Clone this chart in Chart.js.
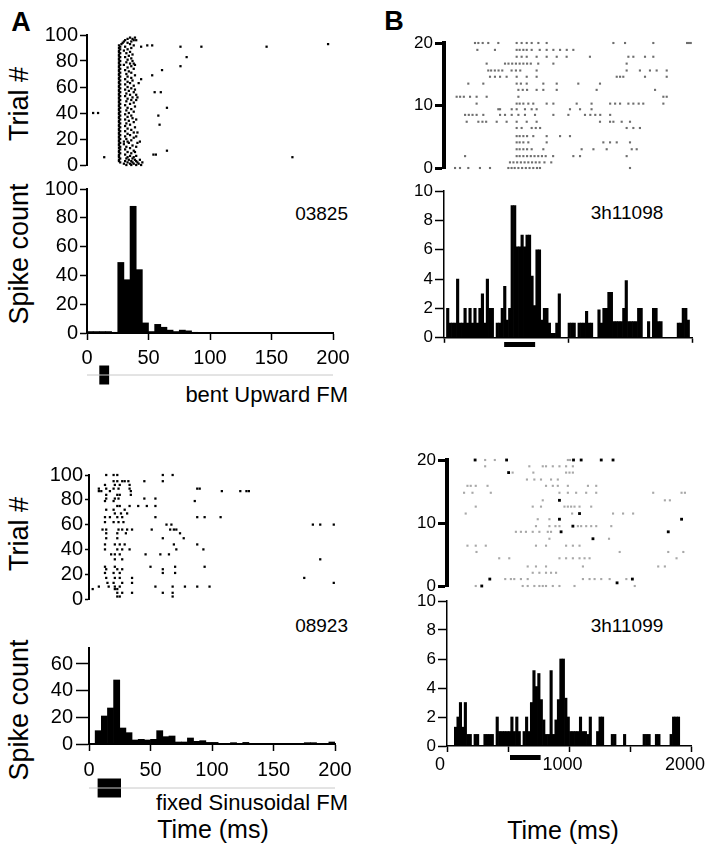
<!DOCTYPE html>
<html>
<head>
<meta charset="utf-8">
<script src="https://cdn.jsdelivr.net/npm/chart.js@4.4.1/dist/chart.umd.min.js"></script>
<style>
  body { margin: 0; background: #fff; }
  #fig { position: relative; width: 714px; height: 850px; overflow: hidden;
         font-family: 'Liberation Sans', Arial, Helvetica, sans-serif; color: #000; }
  .box { position: absolute; }
  .box canvas { display: block; }
  .t { position: absolute; white-space: nowrap; line-height: 1; }
  .c { transform: translate(-50%, -50%); }
  .r { transform: translateY(-50%); }
  .rot { transform: translate(-50%, -50%) rotate(-90deg); }
  .b { font-weight: bold; }
</style>
</head>
<body>
<div id="fig">
  <div class="t c b" style="left:21px;top:22px;font-size:27px">A</div>
  <div class="t c b" style="left:394px;top:21px;font-size:27px">B</div>
  <div class="t rot" style="left:19px;top:104px;font-size:27px">Trial #</div>
  <div class="t rot" style="left:19px;top:254px;font-size:27px">Spike count</div>
  <div class="t rot" style="left:19px;top:534px;font-size:27px">Trial #</div>
  <div class="t rot" style="left:19px;top:710px;font-size:27px">Spike count</div>
  <div class="t r" style="right:366px;top:213px;font-size:19px">03825</div>
  <div class="t r" style="right:366px;top:395px;font-size:22px">bent Upward FM</div>
  <div class="t r" style="right:366px;top:625px;font-size:19px">08923</div>
  <div class="t r" style="right:366px;top:803px;font-size:22px">fixed Sinusoidal FM</div>
  <div class="t c" style="left:627px;top:212px;font-size:19px">3h11098</div>
  <div class="t c" style="left:627px;top:625px;font-size:19px">3h11099</div>
  <div class="t c" style="left:213px;top:829px;font-size:25px">Time (ms)</div>
  <div class="t c" style="left:563px;top:830px;font-size:25px">Time (ms)</div>
</div>
<script>
// --- Raster A (top), spike times in ms, index = trial number ---
const rasterA1 = [
  [32, 36, 40, 44], [30, 35, 38, 42], [27, 33, 37, 41, 45], [26, 31, 36, 40], [26, 34, 39, 43],
  [27, 32, 37], [14, 26, 33, 38, 167], [26, 35, 40], [26, 31, 54, 56], [27, 36],
  [26, 33, 39], [26, 38, 65], [27, 31], [26, 35], [27, 32, 40],
  [26, 37], [26, 30], [27, 34, 41], [26, 30, 33, 43], [26, 36],
  [27, 32], [26, 38], [26, 31, 40], [27, 35], [26, 33],
  [26, 38, 41], [27, 31], [26, 36], [26, 33], [27, 39],
  [26, 31], [26, 35, 59], [27, 32], [26, 38], [26, 34],
  [27, 31, 40], [26, 37], [26, 33], [27, 36, 58], [26, 31],
  [5, 9, 26, 34], [27, 38], [26, 32], [26, 36], [27, 33, 65],
  [26, 39], [26, 31], [27, 35], [26, 38], [26, 32],
  [27, 36, 40], [26, 33], [26, 37, 41], [27, 31], [26, 35, 40],
  [26, 32], [27, 38, 55, 60], [26, 34], [26, 31, 39], [27, 36],
  [26, 33], [26, 38], [27, 31], [26, 35, 42], [26, 33],
  [27, 37], [26, 31, 44], [26, 36], [27, 33], [26, 39, 53],
  [26, 32], [27, 36], [26, 34], [26, 31, 61], [27, 38],
  [26, 33], [26, 36, 76], [27, 30, 39], [26, 35, 38], [26, 32],
  [27, 37], [26, 33], [26, 36], [27, 31, 81], [26, 34],
  [26, 37], [27, 32], [26, 35], [26, 30], [27, 33],
  [26, 36], [27, 31, 44, 76, 93, 146], [26, 38, 49, 53], [28, 35, 196], [29, 33],
  [30, 36], [31, 38, 40], [33, 37], [35, 39]
];

// --- PSTH A (top): 5 ms bins, 0-200 ms ---
const binA = 5;
const histA1 = [1, 1, 1, 1, 0.5, 49, 37, 88, 44, 7, 1, 6, 4, 2, 1, 2, 1.5, 0.5, 0, 0,
                0, 0, 0, 0, 0, 0, 0, 0, 0, 0, 0, 0, 0, 0, 0, 0, 0, 0, 0, 0];

// --- Raster A (bottom): [trial, spike times] ---
const rasterA2 = [
  [100, [14, 20, 23, 60, 68]], [95, [20, 23, 27, 29, 32, 45, 60]], [92, [13, 21, 25, 33]],
  [89, [8, 14, 20, 24, 33, 88, 90]], [87, [8, 10, 17, 34, 108, 123, 128, 130]],
  [84, [14, 23, 25, 34]], [81, [14, 21, 24, 45, 54]], [79, [13, 20, 86]],
  [75, [23, 25, 33, 40, 47, 54]], [72, [14, 20, 29]], [69, [21, 26, 31]],
  [66, [13, 17, 23, 27, 54, 88, 94, 107]], [62, [13, 20, 24, 28]], [60, [63, 67, 182, 188, 199]],
  [56, [11, 14, 24, 27, 31, 35, 51, 66, 69, 71]], [53, [14, 23, 30, 74]], [49, [14, 23, 60, 77]],
  [44, [13, 21, 25, 29, 69, 88]], [40, [13, 23, 27, 33, 71, 93]], [36, [18, 21, 25, 46, 58, 65]],
  [32, [21, 27, 188]], [26, [13, 21, 50, 70, 94]], [24, [14, 23, 27, 60]],
  [21, [13, 20, 25, 60, 70]], [17, [14, 21, 25, 35, 175]], [13, [15, 20, 27, 35, 199]],
  [10, [8, 16, 21, 25, 54, 68, 78, 88, 98]], [8, [3, 21, 23]], [5, [23, 27, 35, 60, 68]],
  [2, [23, 25, 68]]
];

// --- PSTH A (bottom): 5 ms bins, 0-200 ms ---
const histA2 = [0, 10, 21, 27, 48, 12, 8.5, 3, 3.5, 3, 3.5, 10, 5.5, 6, 1.5, 1.5, 4.5, 2, 2.5, 1.2,
                1.2, 0.5, 0.5, 1, 0.5, 1.2, 0.5, 0, 0, 0, 0, 0, 0, 0, 0.5, 1, 1, 0.5, 0, 1.5];

// --- Raster B (top): [row position, spike times] ---
const rasterB1 = [
  [20, [250, 277, 312, 357, 438, 586, 626, 667, 707, 761, 828, 1366, 1460, 1688, 1960, 1975, 1990]],
  [18.9, [269, 411, 586, 610, 640, 667, 707, 772, 828, 882, 936, 990, 1043]],
  [17.8, [586, 626, 667, 747, 828, 909, 989, 1177, 1487, 1527, 1621, 1688]],
  [16.7, [344, 492, 520, 550, 580, 610, 640, 670, 700, 760, 882, 1473]],
  [15.6, [357, 380, 410, 440, 470, 545, 580, 615, 747, 1473, 1580, 1661, 1715, 1796]],
  [14.6, [371, 411, 452, 505, 586, 667, 747, 1393, 1420, 1446, 1621, 1796]],
  [13.5, [196, 317, 586, 620, 667, 801, 909, 1083, 1258]],
  [12.5, [600, 635, 670, 747, 801, 909, 1231, 1702]],
  [11.4, [102, 130, 160, 210, 263, 344, 600, 1769, 1796]],
  [10.3, [263, 586, 610, 640, 680, 720, 828, 882, 1070, 1190, 1340, 1380, 1420, 1487, 1527, 1570, 1607, 1769]],
  [9.4, [438, 452, 546, 586, 653, 707, 747, 1016, 1097, 1190]],
  [8.5, [170, 200, 230, 263, 317, 452, 492, 546, 600, 653, 734, 882, 1003, 1137, 1180, 1220, 1260, 1340]],
  [7.4, [183, 277, 310, 340, 425, 505, 586, 667, 747, 1258, 1339, 1366, 1433, 1500]],
  [6.4, [586, 626, 707, 740, 775, 1473, 1527, 1580]],
  [5.1, [586, 610, 640, 670, 720, 828, 936, 1016]],
  [4.1, [586, 610, 640, 680, 828, 1285, 1339, 1393, 1500]],
  [3.0, [586, 610, 640, 670, 707, 801, 1110, 1205, 1312, 1514, 1554]],
  [1.9, [170, 586, 610, 640, 670, 700, 730, 760, 790, 820, 880, 1043, 1097, 1473]],
  [0.9, [532, 560, 590, 620, 650, 680, 710, 740, 770, 810, 865]],
  [0, [89, 129, 196, 290, 371, 519, 545, 570, 600, 630, 660, 690, 720, 750, 774, 1500]]
];

// --- PSTH B (top): 20 ms bins, 0-2000 ms ---
const binB = 20;
const histB1 = [
  0, 2, 1, 1, 1, 4, 1, 1, 2, 1,
  2, 1, 2, 1, 2, 3, 1, 4, 2, 2,
  0, 1, 1, 2, 3.5, 1.2, 2, 9, 9, 6.2,
  6.2, 7, 6.2, 7, 7, 4.2, 2.2, 6, 6, 1.2,
  2, 2, 1, 0.3, 0.3, 1, 3, 0, 0, 0,
  1, 1, 1, 0, 1, 1, 1, 1.8, 1, 1,
  0, 0, 1.9, 1, 2, 2, 3.1, 3.1, 1.1, 1.1,
  1.1, 1.1, 2, 3.9, 1.1, 1.1, 1.1, 1.1, 2, 2,
  0, 0, 1.1, 0, 2, 2, 1.1, 1.1, 0, 0,
  0, 0, 0, 0, 1, 1, 2, 2, 1.2, 0
];

// --- Raster B (bottom): grey ticks and the darker ones ---
const rasterB2 = [
  [20, [304, 381, 963, 981]],
  [19, [304, 656, 763, 789, 843, 896, 949, 1003]],
  [18, [523, 688, 949, 976, 1003]],
  [16.9, [637, 696, 749, 829, 883]],
  [15.9, [163, 189, 229, 323, 789, 843, 883, 963, 1123, 1189]],
  [14.8, [136, 203, 349, 896, 963, 1029, 1109, 1189, 1643, 1869, 1896]],
  [13.6, [763, 1736, 1776]],
  [12.6, [229, 683, 749, 936, 963, 989, 1016, 1056, 1149]],
  [11.5, [149, 997, 1323, 1403, 1483]],
  [10.6, [723, 816]],
  [9.5, [709, 816, 864, 896, 1043, 1069, 1109, 1149, 1189, 1309]],
  [8.6, [549, 589, 629, 683, 736, 803, 829]],
  [7.5, [816, 1291]],
  [6.4, [163, 229, 309, 709, 789, 949, 1003, 1056]],
  [5.4, [235, 1376, 1763, 1883]],
  [4.4, [416, 496, 896, 949, 1003, 1056, 1096, 1136, 1829]],
  [3.1, [643, 709, 789, 1083, 1683, 1736]],
  [2.1, [683, 736, 789, 829, 869]],
  [1.1, [464, 509, 536, 589, 643, 1083, 1136, 1176, 1229, 1296, 1429]],
  [0, [229, 603, 643, 696, 736, 763, 789, 843, 896, 1016, 1496]]
];
const rasterB2dark = [
  [20, [224, 475, 1008, 1069, 1229, 1323]], [18, [491]], [13.6, [896]], [11.5, [1056]],
  [10.6, [896, 1869]], [9.5, [1003]], [8.6, [909, 1763]], [7.5, [1163]],
  [1.1, [341, 1477]], [0.5, [1355]], [0, [277]]
];

// --- PSTH B (bottom): 20 ms bins, 0-2000 ms ---
const histB2 = [
  0, 0, 0, 1.3, 2, 3, 1.3, 3, 0.8, 0.8,
  0, 0.8, 0.8, 0, 0, 0.8, 0.8, 0.8, 0.8, 0,
  2, 1, 1, 1, 1, 1, 2, 1, 2, 1,
  0, 1, 2, 1, 3, 5.2, 4.1, 5, 3.2, 1.8,
  0.8, 0.8, 5.2, 0.8, 1.8, 3.2, 6, 6, 3.3, 2,
  1, 1, 1, 1, 2, 1, 1, 0.8, 2, 0,
  0, 1, 2, 2, 0, 0, 0, 0.8, 0.8, 0,
  0, 0, 0.8, 0, 0, 0, 0, 0, 0, 0,
  0.8, 0.8, 0.8, 0, 0, 0.8, 0.8, 0, 0, 0,
  0, 0.8, 2, 2, 2, 0, 0, 0, 0, 0
];

// stimulus on/off (ms)
const stimA1 = [10, 18];
const stimA2 = [7, 26];
const stimB1 = [485, 735];
const stimB2 = [502, 746];

// --- helpers ---
Chart.defaults.font.family = "'Liberation Sans', Arial, Helvetica, sans-serif";
Chart.defaults.color = '#000';
Chart.defaults.animation = false;

const fig = document.getElementById('fig');

function panel(area, m, type, datasets, scales) {
  const box = document.createElement('div');
  box.className = 'box';
  box.style.left = (area.x0 - m.l) + 'px';
  box.style.top = (area.y0 - m.t) + 'px';
  const canvas = document.createElement('canvas');
  canvas.width = area.x1 - area.x0 + m.l + m.r;
  canvas.height = area.y1 - area.y0 + m.t + m.b;
  box.appendChild(canvas);
  fig.appendChild(box);
  const xShown = scales.x.display !== false;
  const yShown = scales.y.display !== false;
  if (xShown) scales.x.afterFit = s => { s.height = m.b; };
  if (yShown) scales.y.afterFit = s => { s.width = m.l; };
  return new Chart(canvas, {
    type,
    data: { datasets },
    options: {
      responsive: false,
      layout: { padding: { left: yShown ? 0 : m.l, top: m.t, right: m.r, bottom: xShown ? 0 : m.b } },
      plugins: { legend: { display: false }, tooltip: { enabled: false } },
      scales
    }
  });
}

function yAxis(max, step, o) {
  return {
    type: 'linear', min: 0, max,
    ticks: { stepSize: step, includeBounds: false, autoSkip: false, padding: o.pad, font: { size: o.font } },
    grid: { drawOnChartArea: false, tickLength: o.tick, tickWidth: o.tickW || 1.5, tickColor: '#000' },
    border: { color: '#000', width: o.border }
  };
}

function xAxis(max, step, o) {
  return {
    type: 'linear', min: 0, max, offset: false,
    ticks: { stepSize: step, includeBounds: false, autoSkip: false, maxRotation: 0,
             padding: o.pad, font: { size: o.font }, display: o.labels !== false,
             labelOffset: o.shift || 0, callback: o.callback || (v => v) },
    grid: { offset: false, drawOnChartArea: false, tickLength: o.tick, tickWidth: 1.5, tickColor: '#000' },
    border: { color: '#000', width: o.border }
  };
}

const hidden = max => ({ type: 'linear', min: 0, max, display: false });

function spikes(rows, color, size) {
  return {
    data: rows.flatMap(([trial, times]) => times.map(t => ({ x: t, y: trial }))),
    pointStyle: 'rect', pointRadius: size, pointBorderWidth: 0,
    pointBackgroundColor: color, showLine: false, clip: false
  };
}

function psth(values, width) {
  return {
    data: values.map((v, i) => ({ x: (i + 0.5) * width, y: v })),
    backgroundColor: '#000', borderWidth: 0,
    barPercentage: 1, categoryPercentage: 1
  };
}

function stimulus(area, range, on, thick, withLine) {
  const sets = [];
  if (withLine) {
    sets.push({ data: [{ x: range[0], y: 0 }, { x: range[1], y: 0 }],
                borderColor: '#c8c8c8', borderWidth: 1, pointRadius: 0, clip: false });
  }
  sets.push({ data: [{ x: on[0], y: 0 }, { x: on[1], y: 0 }],
              borderColor: '#000', borderWidth: thick, borderCapStyle: 'butt', pointRadius: 0, clip: false });
  panel(area, { l: 0, t: 0, r: 0, b: 0 }, 'line', sets,
        { x: { type: 'linear', min: range[0], max: range[1], display: false },
          y: { type: 'linear', min: -1, max: 1, display: false } });
}

// --- Panel A, top ---
panel({ x0: 87, x1: 333, y0: 35, y1: 165 }, { l: 48, t: 14, r: 20, b: 14 }, 'scatter',
  [spikes(rasterA1.map((times, trial) => [trial, times]), '#000', 1.6)],
  { x: hidden(200), y: yAxis(100, 20, { font: 20, pad: 2, tick: 7, border: 2 }) });

panel({ x0: 87, x1: 333, y0: 189, y1: 333 }, { l: 48, t: 14, r: 25, b: 36 }, 'bar',
  [psth(histA1, binA)],
  { x: xAxis(200, 50, { font: 20, pad: 6, tick: 7, border: 2 }),
    y: yAxis(100, 20, { font: 20, pad: 2, tick: 7, border: 2 }) });

stimulus({ x0: 87, x1: 333, y0: 364, y1: 386 }, [0, 200], stimA1, 19, true);

// --- Panel A, bottom ---
panel({ x0: 89, x1: 335, y0: 475, y1: 599 }, { l: 50, t: 14, r: 20, b: 14 }, 'scatter',
  [spikes(rasterA2, '#000', 1.6)],
  { x: hidden(200), y: yAxis(100, 20, { font: 20, pad: 2, tick: 4, border: 2 }) });

panel({ x0: 89, x1: 335, y0: 647, y1: 744 }, { l: 50, t: 14, r: 25, b: 36 }, 'bar',
  [psth(histA2, binA)],
  { x: xAxis(200, 50, { font: 20, pad: 7, tick: 7, border: 2 }),
    y: yAxis(72, 20, { font: 20, pad: 3, tick: 13, border: 2 }) });

stimulus({ x0: 89, x1: 335, y0: 777, y1: 799 }, [0, 200], stimA2, 19, true);

// --- Panel B, top ---
panel({ x0: 444, x1: 692, y0: 43, y1: 168 }, { l: 40, t: 14, r: 20, b: 14 }, 'scatter',
  [spikes(rasterB1, '#6e6e6e', 1.5)],
  { x: hidden(2000), y: yAxis(20, 10, { font: 17, pad: 2, tick: 9, tickW: 3, border: 4 }) });

panel({ x0: 444, x1: 692, y0: 191, y1: 338 }, { l: 40, t: 14, r: 20, b: 12 }, 'bar',
  [psth(histB1, binB)],
  { x: xAxis(2000, 1000, { font: 17, pad: 2, tick: 5, border: 1.5, labels: false }),
    y: yAxis(10, 2, { font: 17, pad: 2, tick: 9, border: 1.5 }) });

stimulus({ x0: 444, x1: 692, y0: 340, y1: 349 }, [0, 2000], stimB1, 5, false);

// --- Panel B, bottom ---
panel({ x0: 447, x1: 698, y0: 460, y1: 586 }, { l: 40, t: 14, r: 16, b: 14 }, 'scatter',
  [spikes(rasterB2, '#a8a8a8', 1.5), spikes(rasterB2dark, '#000', 2)],
  { x: hidden(2000), y: yAxis(20, 10, { font: 17, pad: 2, tick: 9, tickW: 3, border: 4 }) });

panel({ x0: 447, x1: 698, y0: 601, y1: 746 }, { l: 44, t: 14, r: 16, b: 34 }, 'bar',
  [psth(histB2, binB)],
  { x: xAxis(2000, 500, { font: 18, pad: 2, tick: 6, border: 1.5, shift: -7,
                          callback: v => (v % 1000 === 0 ? v : '') }),
    y: yAxis(10, 2, { font: 17, pad: 2, tick: 9, border: 1.5 }) });

stimulus({ x0: 447, x1: 698, y0: 753, y1: 762 }, [0, 2000], stimB2, 5, false);
</script>
</body>
</html>
